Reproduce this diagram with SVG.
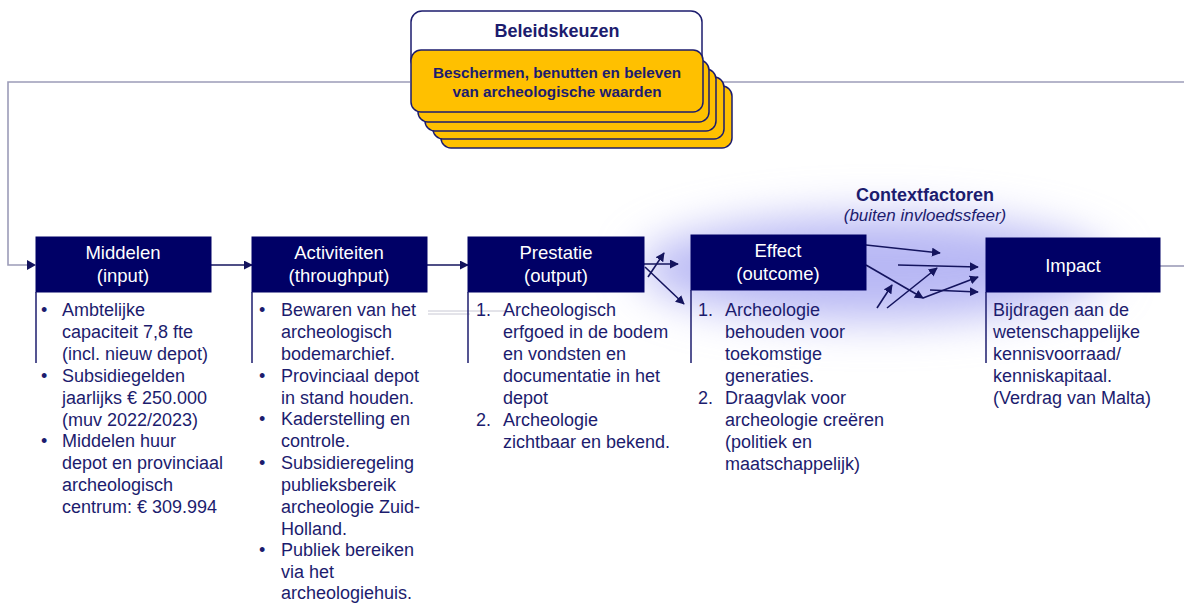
<svg xmlns="http://www.w3.org/2000/svg" width="1184" height="603" viewBox="0 0 1184 603">
<style>
.hdr{fill:#000066;stroke:#000066}
.ht{font-family:"Liberation Sans",Arial,sans-serif;font-size:18.5px;fill:#ffffff;text-anchor:middle}
.bt{font-family:"Liberation Sans",Arial,sans-serif;font-size:18px;fill:#1c1c6e}
.side{stroke:#1c1c6e;stroke-width:1.5;fill:none}
.conn{stroke:#14145e;stroke-width:1.6;fill:none;marker-end:url(#ah)}
.loop{stroke:#9c9cb8;stroke-width:1.6;fill:none}
.yel{fill:#FFC000;stroke:#1c1c6e;stroke-width:1.5}
</style>
<defs>
<marker id="ah" viewBox="0 0 10 10" refX="9" refY="5" markerWidth="9" markerHeight="9" markerUnits="userSpaceOnUse" orient="auto">
<path d="M0,0 L10,5 L0,10 z" fill="#14145e"/>
</marker>
<filter id="blur" x="-30%" y="-80%" width="160%" height="260%"><feGaussianBlur stdDeviation="22"/></filter>
</defs>
<rect width="1184" height="603" fill="#ffffff"/>

<g id="context">
<ellipse cx="875" cy="268" rx="235" ry="52" fill="#b8b8f4" filter="url(#blur)"/>
<text x="925" y="201" style="font-family:'Liberation Sans',Arial,sans-serif;font-size:18px;font-weight:bold;fill:#1c1c6e;text-anchor:middle">Contextfactoren</text>
<text x="925" y="221" style="font-family:'Liberation Sans',Arial,sans-serif;font-size:17px;font-style:italic;fill:#1c1c6e;text-anchor:middle">(buiten invloedssfeer)</text>
</g>

<g id="connectors">
<polyline class="loop" points="1184,82 710,82"/>
<polyline class="loop" points="410,82 8,82 8,265 30,265"/>
<line class="loop" x1="1160" y1="266" x2="1184" y2="266"/>
<path d="M716,77 L707,82 L716,87 z" fill="#14145e"/>
<path d="M27,260 L36,265 L27,270 z" fill="#14145e"/>
<line class="conn" x1="211" y1="265" x2="252" y2="265"/>
<line class="conn" x1="427" y1="265" x2="468" y2="265"/>
<line class="conn" x1="644" y1="264" x2="678" y2="264"/>
<line class="conn" x1="645" y1="267" x2="684" y2="304"/>
<line class="conn" x1="648" y1="277" x2="664" y2="253"/>
<line class="conn" x1="866" y1="245" x2="940" y2="253"/>
<line class="conn" x1="898" y1="265" x2="978" y2="267"/>
<line class="conn" x1="866" y1="265" x2="923" y2="298"/>
<line class="conn" x1="923" y1="298" x2="978" y2="277"/>
<line class="conn" x1="930" y1="290" x2="978" y2="292"/>
<line class="conn" x1="877" y1="308" x2="892" y2="285"/>
<line class="conn" x1="887" y1="308" x2="937" y2="268"/>
<line x1="428" y1="311" x2="507" y2="311" stroke="#c8c8d4" stroke-width="1"/>
<line x1="428" y1="314" x2="470" y2="314" stroke="#c8c8d4" stroke-width="1"/>
</g>

<g id="beleidskeuzen">
<rect x="411" y="11" width="291" height="60" rx="11" fill="#ffffff" stroke="#1c1c6e" stroke-width="1.5"/>
<text x="557" y="37" style="font-family:'Liberation Sans',Arial,sans-serif;font-size:18px;font-weight:bold;fill:#1c1c6e;text-anchor:middle">Beleidskeuzen</text>
<rect class="yel" x="441" y="86" width="291" height="62" rx="10"/>
<rect class="yel" x="433" y="77" width="291" height="62" rx="10"/>
<rect class="yel" x="425" y="69" width="291" height="62" rx="10"/>
<rect class="yel" x="418" y="60" width="291" height="62" rx="10"/>
<rect class="yel" x="411" y="50" width="292" height="62" rx="10"/>
<text x="557" y="78" style="font-family:'Liberation Sans',Arial,sans-serif;font-size:15.3px;font-weight:bold;fill:#1c1c6e;text-anchor:middle">Beschermen, benutten en beleven</text>
<text x="557" y="97" style="font-family:'Liberation Sans',Arial,sans-serif;font-size:15.3px;font-weight:bold;fill:#1c1c6e;text-anchor:middle">van archeologische waarden</text>
</g>

<g id="middelen">
<rect class="hdr" x="36" y="237" width="175" height="55"/>
<text class="ht" x="123" y="259">Middelen</text>
<text class="ht" x="123" y="282">(input)</text>
<line class="side" x1="36" y1="292" x2="36" y2="363"/>
<text class="bt"><tspan x="41" y="316">•</tspan><tspan x="62" y="316">Ambtelijke</tspan><tspan x="62" y="338">capaciteit 7,8 fte</tspan><tspan x="62" y="360">(incl. nieuw depot)</tspan><tspan x="41" y="382">•</tspan><tspan x="62" y="382">Subsidiegelden</tspan><tspan x="62" y="404">jaarlijks € 250.000</tspan><tspan x="62" y="426">(muv 2022/2023)</tspan><tspan x="41" y="447">•</tspan><tspan x="62" y="447">Middelen huur</tspan><tspan x="62" y="469">depot en provinciaal</tspan><tspan x="62" y="491">archeologisch</tspan><tspan x="62" y="513">centrum: € 309.994</tspan></text>
</g>

<g id="activiteiten">
<rect class="hdr" x="252" y="237" width="175" height="55"/>
<text class="ht" x="339" y="259">Activiteiten</text>
<text class="ht" x="339" y="282">(throughput)</text>
<line class="side" x1="252" y1="292" x2="252" y2="363"/>
<text class="bt"><tspan x="259" y="316">•</tspan><tspan x="281" y="316">Bewaren van het</tspan><tspan x="281" y="338">archeologisch</tspan><tspan x="281" y="360">bodemarchief.</tspan><tspan x="259" y="382">•</tspan><tspan x="281" y="382">Provinciaal depot</tspan><tspan x="281" y="404">in stand houden.</tspan><tspan x="259" y="425">•</tspan><tspan x="281" y="425">Kaderstelling en</tspan><tspan x="281" y="447">controle.</tspan><tspan x="259" y="469">•</tspan><tspan x="281" y="469">Subsidieregeling</tspan><tspan x="281" y="491">publieksbereik</tspan><tspan x="281" y="513">archeologie Zuid-</tspan><tspan x="281" y="535">Holland.</tspan><tspan x="259" y="556">•</tspan><tspan x="281" y="556">Publiek bereiken</tspan><tspan x="281" y="578">via het</tspan><tspan x="281" y="599">archeologiehuis.</tspan></text>
</g>

<g id="prestatie">
<rect class="hdr" x="468" y="237" width="176" height="55"/>
<text class="ht" x="556" y="259">Prestatie</text>
<text class="ht" x="556" y="282">(output)</text>
<line class="side" x1="468" y1="292" x2="468" y2="363"/>
<text class="bt"><tspan x="476" y="316">1.</tspan><tspan x="503" y="316">Archeologisch</tspan><tspan x="503" y="338">erfgoed in de bodem</tspan><tspan x="503" y="360">en vondsten en</tspan><tspan x="503" y="382">documentatie in het</tspan><tspan x="503" y="404">depot</tspan><tspan x="476" y="426">2.</tspan><tspan x="503" y="426">Archeologie</tspan><tspan x="503" y="448">zichtbaar en bekend.</tspan></text>
</g>

<g id="effect">
<rect class="hdr" x="691" y="235" width="175" height="55"/>
<text class="ht" x="778" y="257">Effect</text>
<text class="ht" x="778" y="280">(outcome)</text>
<line class="side" x1="691" y1="290" x2="691" y2="363"/>
<text class="bt"><tspan x="698" y="316">1.</tspan><tspan x="725" y="316">Archeologie</tspan><tspan x="725" y="338">behouden voor</tspan><tspan x="725" y="360">toekomstige</tspan><tspan x="725" y="382">generaties.</tspan><tspan x="698" y="404">2.</tspan><tspan x="725" y="404">Draagvlak voor</tspan><tspan x="725" y="426">archeologie creëren</tspan><tspan x="725" y="448">(politiek en</tspan><tspan x="725" y="470">maatschappelijk)</tspan></text>
</g>

<g id="impact">
<rect class="hdr" x="986" y="238" width="174" height="54"/>
<text class="ht" x="1073" y="272">Impact</text>
<line class="side" x1="986" y1="292" x2="986" y2="363"/>
<text class="bt"><tspan x="993" y="316">Bijdragen aan de</tspan><tspan x="993" y="338">wetenschappelijke</tspan><tspan x="993" y="360">kennisvoorraad/</tspan><tspan x="993" y="382">kenniskapitaal.</tspan><tspan x="993" y="404">(Verdrag van Malta)</tspan></text>
</g>
</svg>
